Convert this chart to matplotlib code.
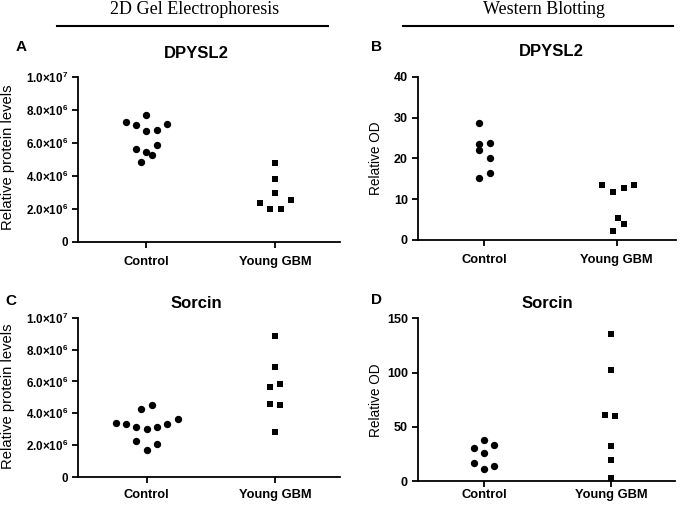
import matplotlib
matplotlib.use("Agg")
import matplotlib.pyplot as plt
from matplotlib.ticker import FixedLocator, FixedFormatter

plt.rcParams['font.family'] = ['Liberation Sans', 'DejaVu Sans']
plt.rcParams['mathtext.fontset'] = 'custom'
plt.rcParams['mathtext.rm'] = 'Liberation Sans:bold'
plt.rcParams['mathtext.bf'] = 'Liberation Sans:bold'
plt.rcParams['mathtext.default'] = 'rm'

# ---------------- data ----------------
categories = ["Control", "Young GBM"]

# Panel A: 2D gel, DPYSL2
a_control = [7.26e6, 7.10e6, 7.68e6, 6.70e6, 6.80e6, 7.14e6, 5.64e6, 5.48e6, 5.30e6, 5.86e6, 4.86e6]
a_control_jit = [-0.155, -0.08, 0.0, 0.0, 0.083, 0.165, -0.08, 0.0, 0.044, 0.083, -0.039]
a_gbm = [4.80e6, 3.80e6, 2.96e6, 2.36e6, 2.56e6, 2.00e6, 2.00e6]
a_gbm_jit = [0.0, 0.0, 0.0, -0.116, 0.121, -0.039, 0.044]

# Panel B: Western, DPYSL2
b_control = [28.7, 23.4, 22.0, 23.8, 20.0, 15.2, 16.4]
b_control_jit = [-0.04, -0.04, -0.04, 0.043, 0.043, -0.04, 0.043]
b_gbm = [13.4, 11.8, 12.7, 13.5, 5.3, 3.9, 2.1]
b_gbm_jit = [-0.106, -0.028, 0.053, 0.134, 0.013, 0.053, -0.028]

# Panel C: 2D gel, Sorcin
c_control = [3.42e6, 3.30e6, 3.11e6, 3.00e6, 3.17e6, 3.30e6, 3.63e6, 4.26e6, 4.55e6, 2.28e6, 2.07e6, 1.67e6]
c_control_jit = [-0.242, -0.161, -0.083, 0.0, 0.078, 0.161, 0.242, -0.044, 0.039, -0.083, 0.078, 0.0]
c_gbm = [8.85e6, 6.93e6, 5.68e6, 5.82e6, 4.57e6, 4.53e6, 2.84e6]
c_gbm_jit = [0.0, 0.0, -0.039, 0.039, -0.039, 0.039, 0.0]

# Panel D: Western, Sorcin
d_control = [38.0, 30.0, 33.6, 25.9, 16.7, 13.6, 11.4]
d_control_jit = [0.0, -0.081, 0.081, 0.0, -0.081, 0.081, 0.0]
d_gbm = [135.8, 102.2, 60.5, 59.6, 32.4, 19.4, 3.1]
d_gbm_jit = [0.0, 0.0, -0.047, 0.034, 0.0, 0.0, 0.0]

gel_ticks = [0, 2e6, 4e6, 6e6, 8e6, 1e7]
gel_ticklabels = ["0", "2.0\u00d710$^{6}$", "4.0\u00d710$^{6}$", "6.0\u00d710$^{6}$",
                  "8.0\u00d710$^{6}$", "1.0\u00d710$^{7}$"]
b_ticks = [0, 10, 20, 30, 40]
d_ticks = [0, 50, 100, 150]

W, H = 685, 505
fig = plt.figure(figsize=(W / 100, H / 100), dpi=100)


def fx(x):
    return x / W


def fy(y):
    return 1 - y / H


def add_ax(left, right, top, bottom):
    return fig.add_axes([left / W, (H - bottom) / H, (right - left) / W, (bottom - top) / H])


def style(ax, xlim, ylim, ticks, ticklabels, tick_fs, xpad, ylabel, ylabel_fs, ylabel_xy,
          title, title_xy, letter, letter_xy):
    for s in ['top', 'right']:
        ax.spines[s].set_visible(False)
    for s in ['left', 'bottom']:
        ax.spines[s].set_linewidth(1.3)
    ax.set_xlim(*xlim)
    ax.set_ylim(*ylim)
    ax.set_xticks([0, 1])
    ax.set_xticklabels(categories, fontsize=9.3, fontweight='bold')
    ax.yaxis.set_major_locator(FixedLocator(ticks))
    ax.yaxis.set_major_formatter(FixedFormatter(ticklabels))
    ax.tick_params(axis='both', direction='out', length=4, width=1.3, pad=3)
    ax.tick_params(axis='x', pad=xpad)
    for lab in ax.get_yticklabels():
        lab.set_fontsize(tick_fs)
        lab.set_fontweight('bold')
    fig.text(fx(ylabel_xy[0]), fy(ylabel_xy[1]), ylabel, fontsize=ylabel_fs,
             rotation=90, ha='center', va='center')
    fig.text(fx(title_xy[0]), fy(title_xy[1]), title, fontsize=12, fontweight='bold',
             ha='center', va='center')
    fig.text(fx(letter_xy[0]), fy(letter_xy[1]), letter, fontsize=11,
             fontweight='bold', ha='center', va='center')


def scatter(ax, ctrl, ctrl_j, gbm, gbm_j):
    ax.scatter([0 + j for j in ctrl_j], ctrl, s=28, marker='o', color='black', linewidths=0, clip_on=False, zorder=3)
    ax.scatter([1 + j for j in gbm_j], gbm, s=24, marker='s', color='black', linewidths=0, clip_on=False, zorder=3)


# Panel A
axA = add_ax(78, 340, 77, 242)
scatter(axA, a_control, a_control_jit, a_gbm, a_gbm_jit)
style(axA, (-0.527, 1.504), (0, 1e7), gel_ticks, gel_ticklabels, 8.4, 6,
      "Relative protein levels", 10.6, (8.5, 157.5), "DPYSL2", (196, 53), "A", (21, 47))

# Panel B
axB = add_ax(417.7, 676, 76.7, 240)
scatter(axB, b_control, b_control_jit, b_gbm, b_gbm_jit)
style(axB, ((417.7 - 484) / 132.5, (676 - 484) / 132.5), (0, 40), b_ticks,
      [str(t) for t in b_ticks], 9, 6, "Relative OD", 9.8, (376, 158),
      "DPYSL2", (551, 52), "B", (377, 47))

# Panel C
axC = add_ax(78, 340, 317.7, 477)
scatter(axC, c_control, c_control_jit, c_gbm, c_gbm_jit)
style(axC, (-0.535, 1.506), (0, 1e7), gel_ticks, gel_ticklabels, 8.4, 4.5,
      "Relative protein levels", 10.6, (8.5, 396), "Sorcin", (196, 303), "C", (11, 301))

# Panel D
axD = add_ax(417.7, 675, 318.3, 481)
scatter(axD, d_control, d_control_jit, d_gbm, d_gbm_jit)
style(axD, ((417.7 - 484) / 127, (675 - 484) / 127), (0, 150), d_ticks,
      [str(t) for t in d_ticks], 9, 1.5, "Relative OD", 9.8, (376, 400),
      "Sorcin", (547, 304), "D", (377, 300))

# Headers
fig.text(fx(195), fy(9), "2D Gel Electrophoresis", family='Liberation Serif',
         fontsize=13, ha='center', va='center')
fig.text(fx(544), fy(9), "Western Blotting", family='Liberation Serif',
         fontsize=13, ha='center', va='center')
fig.add_artist(plt.Line2D([fx(57), fx(328)], [fy(26), fy(26)], color='black', lw=1.5))
fig.add_artist(plt.Line2D([fx(403), fx(673)], [fy(26), fy(26)], color='black', lw=1.5))

fig.savefig("out.png", dpi=100)
